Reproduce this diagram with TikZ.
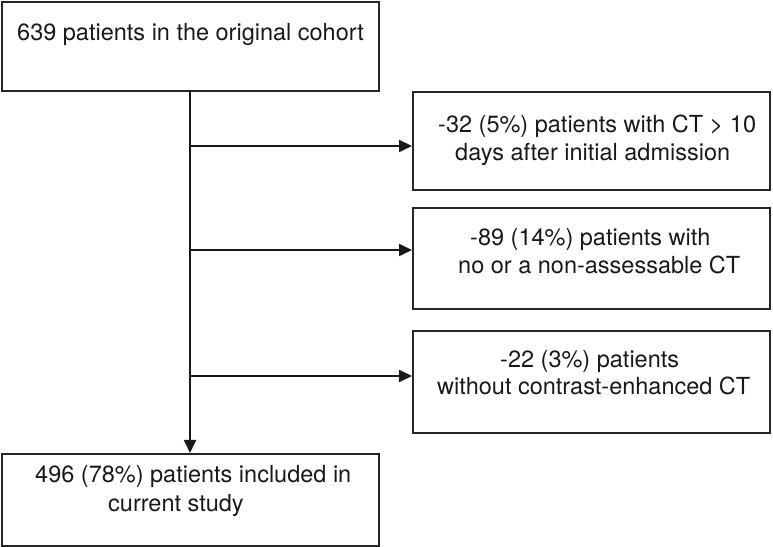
\documentclass[tikz,border=0pt]{standalone}
\usepackage{fontspec}
\setmainfont{TeX Gyre Heros}
\usetikzlibrary{arrows.meta}
\begin{document}
\begin{tikzpicture}[x=1pt,y=1pt,
  box/.style={draw=black!85, line width=1.6pt},
  txt/.style={anchor=base west, inner sep=0pt, font=\fontsize{23.5}{28}\selectfont, text=black!90},
  conn/.style={draw=black!90, line width=1.8pt},
  arr/.style={conn, -{Triangle[length=13pt,width=12pt]}}]
\useasboundingbox (0,0) rectangle (773,546);
% boxes
\node[box, anchor=north west, minimum width=377pt, minimum height=89pt] (top) at (1,545) {};
\node[box, anchor=north west, minimum width=357pt, minimum height=98pt] (b2) at (412,455) {};
\node[box, anchor=north west, minimum width=357pt, minimum height=101pt] (b3) at (412,339) {};
\node[box, anchor=north west, minimum width=357pt, minimum height=102pt] (b4) at (412,216) {};
\node[box, anchor=north west, minimum width=377pt, minimum height=92pt] (bot) at (1,93) {};
% texts
\node[txt] (t1) at (17,505) {639 patients in the original cohort};
\node[txt] (t2a) at (438,413) {-32 (5\%) patients with CT > 10};
\node[txt] (t2b) at (455,385) {days after initial admission};
\node[txt] (t3a) at (470,300) {-89 (14\%) patients with};
\node[txt] (t3b) at (458,272) {no or a non-assessable CT};
\node[txt] (t4a) at (500,178) {-22 (3\%) patients};
\node[txt] (t4b) at (437,151) {without contrast-enhanced CT};
\node[txt] (t5a) at (35,64) {496 (78\%) patients included in};
\node[txt] (t5b) at (108,35) {current study};
% trunk
\coordinate (s) at (190,456);
\coordinate (j1) at (190,400);
\coordinate (j2) at (190,296);
\coordinate (j3) at (190,170);
\coordinate (e) at (190,93);
\draw[arr] (s) -- (e);
\draw[arr] (j1) -- (j1 -| b2.west);
\draw[arr] (j2) -- (j2 -| b3.west);
\draw[arr] (j3) -- (j3 -| b4.west);
\end{tikzpicture}
\end{document}
